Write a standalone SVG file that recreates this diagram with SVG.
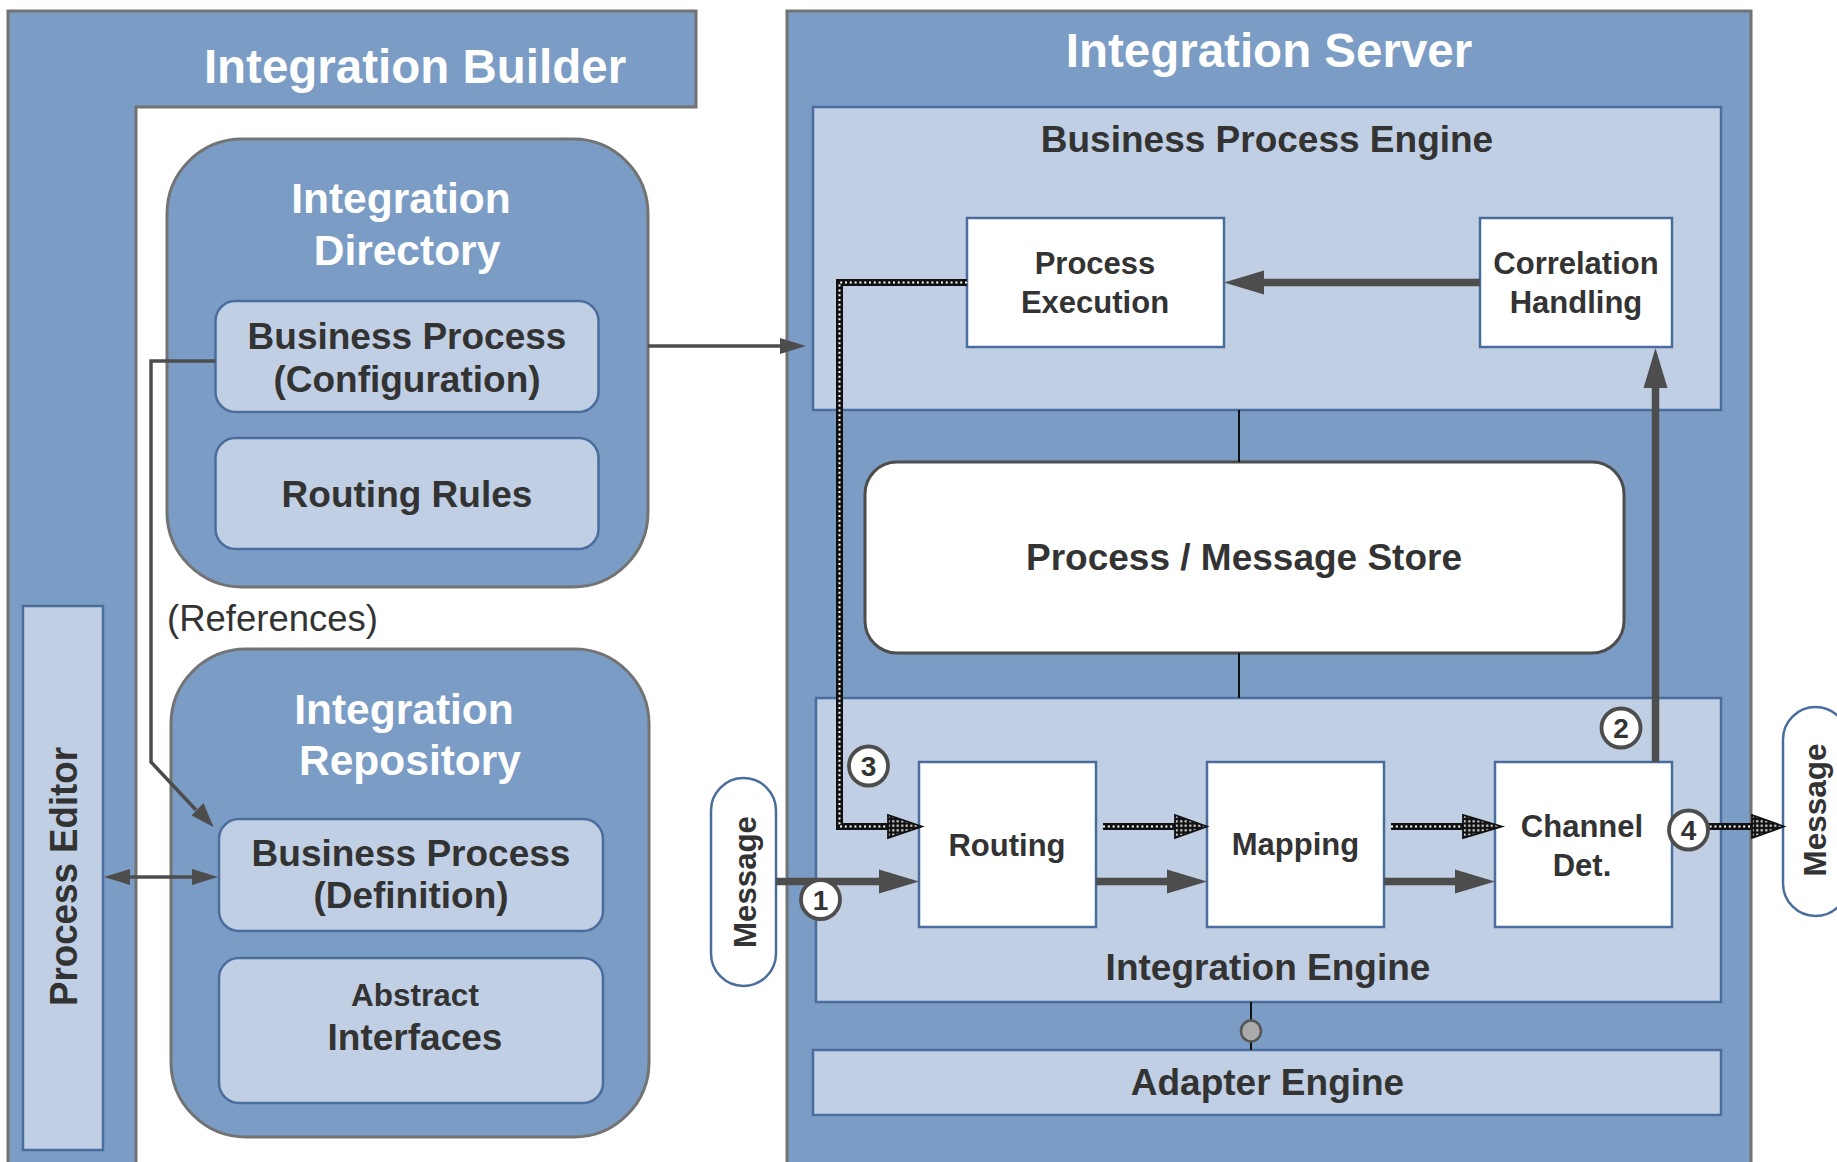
<svg xmlns="http://www.w3.org/2000/svg" width="1837" height="1162" viewBox="0 0 1837 1162">
<style>
text{font-family:"Liberation Sans",Arial,sans-serif;font-weight:bold;text-anchor:middle}
.wt{fill:#ffffff}
.dk{fill:#333333}
.reg{font-weight:normal;text-anchor:start}
.mid{fill:#7b9cc4;stroke:#737373;stroke-width:3}
.lt{fill:#c0cfe3;stroke:#4a6d9e;stroke-width:2.5}
.wb{fill:#ffffff;stroke:#4a6d9e;stroke-width:2.5}
.pill{fill:#ffffff;stroke:#4a6d9e;stroke-width:2.5}
.thick{stroke:#4d4d4d;stroke-width:7.5;fill:none}
.thin{stroke:#4d4d4d;stroke-width:3.5;fill:none}
.hair{stroke:#111;stroke-width:2;fill:none}
.dotA{stroke:#111;stroke-width:7;fill:none}
.dotB{stroke:#fff;stroke-width:2;stroke-dasharray:2 2.8;fill:none}
.dhead{fill:url(#chk);stroke:#111;stroke-width:1.8}
.num{fill:#fff;stroke:#4d4d4d;stroke-width:3.8}
.nt{font-size:28px;fill:#333}
</style>
<defs>
<pattern id="chk" width="4.5" height="4.5" patternUnits="userSpaceOnUse">
<rect width="4.5" height="4.5" fill="#111"/>
<rect x="1.25" y="1.25" width="2" height="2" fill="#fff"/>
</pattern>
<marker id="ah" markerUnits="userSpaceOnUse" markerWidth="40" markerHeight="24" refX="0" refY="12" orient="auto" overflow="visible">
<path d="M0,0 L40,12 L0,24 Z" fill="#4d4d4d"/>
</marker>
<marker id="ahs" markerUnits="userSpaceOnUse" markerWidth="26" markerHeight="16" refX="0" refY="8" orient="auto-start-reverse" overflow="visible">
<path d="M0,0 L26,8 L0,16 Z" fill="#4d4d4d"/>
</marker>
</defs>

<g id="integration-builder">
<path class="mid" d="M8,11 H696 V107 H136 V1170 H8 Z"/>
<text class="wt" x="415" y="83" font-size="47.5">Integration Builder</text>
</g>

<g id="process-editor">
<rect class="lt" x="23" y="606" width="80" height="544"/>
<text class="dk" transform="translate(77,876.5) rotate(-90)" font-size="38" textLength="259" lengthAdjust="spacingAndGlyphs">Process Editor</text>
</g>

<g id="integration-directory">
<rect class="mid" x="167" y="139" width="481" height="448" rx="75"/>
<text class="wt" x="401" y="213" font-size="42.5">Integration</text>
<text class="wt" x="407" y="265" font-size="42.5">Directory</text>
</g>
<g id="bp-configuration">
<rect class="lt" x="215.5" y="301" width="383" height="111" rx="20"/>
<text class="dk" x="407" y="349" font-size="37">Business Process</text>
<text class="dk" x="407" y="392" font-size="37">(Configuration)</text>
</g>
<g id="routing-rules">
<rect class="lt" x="215.5" y="438" width="383" height="111" rx="20"/>
<text class="dk" x="407" y="507" font-size="37">Routing Rules</text>
</g>

<g id="references-label">
<text class="dk reg" x="167" y="631" font-size="36.5">(References)</text>
</g>

<g id="integration-repository">
<rect class="mid" x="171" y="649" width="478" height="488" rx="75"/>
<text class="wt" x="404" y="724" font-size="42.5">Integration</text>
<text class="wt" x="410" y="775" font-size="42.5">Repository</text>
</g>
<g id="bp-definition">
<rect class="lt" x="219" y="819" width="384" height="112" rx="20"/>
<text class="dk" x="411" y="866" font-size="37">Business Process</text>
<text class="dk" x="411" y="908" font-size="37">(Definition)</text>
</g>
<g id="abstract-interfaces">
<rect class="lt" x="219" y="958" width="384" height="145" rx="20"/>
<text class="dk" x="415" y="1006" font-size="31.5">Abstract</text>
<text class="dk" x="415" y="1050" font-size="37">Interfaces</text>
</g>

<g id="integration-server">
<rect class="mid" x="787" y="11" width="964" height="1170"/>
<text class="wt" x="1269" y="67" font-size="47.5">Integration Server</text>
</g>

<g id="business-process-engine">
<rect class="lt" x="813" y="107" width="908" height="303" stroke-width="3"/>
<text class="dk" x="1267" y="152" font-size="37">Business Process Engine</text>
</g>
<g id="process-execution">
<rect class="wb" x="967" y="218" width="257" height="129"/>
<text class="dk" x="1095" y="274" font-size="31">Process</text>
<text class="dk" x="1095" y="313" font-size="31">Execution</text>
</g>
<g id="correlation-handling">
<rect class="wb" x="1480" y="218" width="192" height="129"/>
<text class="dk" x="1576" y="274" font-size="31">Correlation</text>
<text class="dk" x="1576" y="313" font-size="31">Handling</text>
</g>

<g id="message-store">
<rect x="865" y="462" width="759" height="191" rx="32" fill="#fff" stroke="#4d4d4d" stroke-width="3"/>
<text class="dk" x="1244" y="570" font-size="37">Process / Message Store</text>
</g>

<g id="integration-engine">
<rect class="lt" x="816" y="698" width="905" height="304" stroke-width="3"/>
<text class="dk" x="1268" y="980" font-size="37">Integration Engine</text>
</g>
<g id="routing">
<rect class="wb" x="919" y="762" width="177" height="165"/>
<text class="dk" x="1007" y="856" font-size="31">Routing</text>
</g>
<g id="mapping">
<rect class="wb" x="1207" y="762" width="177" height="165"/>
<text class="dk" x="1295.5" y="855" font-size="31">Mapping</text>
</g>
<g id="channel-det">
<rect class="wb" x="1495" y="762" width="177" height="165"/>
<text class="dk" x="1582" y="837" font-size="31">Channel</text>
<text class="dk" x="1582" y="876" font-size="31">Det.</text>
</g>

<g id="adapter-engine">
<rect class="lt" x="813" y="1050" width="908" height="65" stroke-width="3"/>
<text class="dk" x="1267.5" y="1095" font-size="37">Adapter Engine</text>
</g>

<g id="message-in">
<rect class="pill" x="711" y="778" width="65" height="208" rx="32.5"/>
<text class="dk" transform="translate(756,882) rotate(-90)" font-size="32" textLength="132" lengthAdjust="spacingAndGlyphs">Message</text>
</g>
<g id="message-out">
<rect class="pill" x="1783" y="707" width="65" height="209" rx="32.5"/>
<text class="dk" transform="translate(1826,810) rotate(-90)" font-size="32" textLength="133" lengthAdjust="spacingAndGlyphs">Message</text>
</g>

<g id="connectors">
<!-- directory to server -->
<line class="thin" x1="648" y1="346" x2="780" y2="346" marker-end="url(#ahs)"/>
<!-- references -->
<polyline class="thin" points="215.5,361 151,361 151,762 196,810"/>
<path d="M213.5,827 L191.5,815.5 L203.5,803 Z" fill="#4d4d4d"/>
<!-- process editor <-> definition -->
<line class="thin" x1="130" y1="877" x2="192" y2="877" marker-start="url(#ahs)" marker-end="url(#ahs)"/>
<!-- correlation -> process execution -->
<line class="thick" x1="1480" y1="282.5" x2="1264" y2="282.5" marker-end="url(#ah)"/>
<!-- channel det -> correlation -->
<line class="thick" x1="1655.5" y1="762" x2="1655.5" y2="388" marker-end="url(#ah)"/>
<!-- solid message flow -->
<line class="thick" x1="776" y1="881.5" x2="879" y2="881.5" marker-end="url(#ah)"/>
<line class="thick" x1="1096" y1="881.5" x2="1167" y2="881.5" marker-end="url(#ah)"/>
<line class="thick" x1="1384" y1="881.5" x2="1455" y2="881.5" marker-end="url(#ah)"/>
<!-- store links -->
<line class="hair" x1="1239" y1="410" x2="1239" y2="462"/>
<line class="hair" x1="1239" y1="653" x2="1239" y2="698"/>
<line class="hair" x1="1251" y1="1002" x2="1251" y2="1050"/>
<ellipse cx="1251" cy="1031" rx="10" ry="10.5" fill="#aaaaaa" stroke="#555" stroke-width="2.5"/>
<!-- dotted flows -->
<path class="dotA" d="M967,282.5 H839.5 V826.5 H889"/>
<path class="dotB" d="M967,282.5 H839.5 V826.5 H889"/>
<polygon class="dhead" points="922,826.5 888,815 888,838"/>
<path class="dotA" d="M1103,826.5 H1176"/>
<path class="dotB" d="M1103,826.5 H1176"/>
<polygon class="dhead" points="1207,826.5 1175,815 1175,838"/>
<path class="dotA" d="M1391,826.5 H1464"/>
<path class="dotB" d="M1391,826.5 H1464"/>
<polygon class="dhead" points="1502,826.5 1463,815 1463,838"/>
<path class="dotA" d="M1700,826.5 H1753"/>
<path class="dotB" d="M1700,826.5 H1753"/>
<polygon class="dhead" points="1784,826.5 1752,815 1752,838"/>
<!-- step numbers -->
<circle class="num" cx="820.5" cy="899.5" r="19.5"/>
<text class="nt" x="820.5" y="909.5">1</text>
<circle class="num" cx="1621" cy="728" r="19.5"/>
<text class="nt" x="1621" y="738">2</text>
<circle class="num" cx="868.5" cy="766" r="19.5"/>
<text class="nt" x="868.5" y="776">3</text>
<circle class="num" cx="1688.5" cy="830" r="19.5"/>
<text class="nt" x="1688.5" y="840">4</text>
</g>
</svg>
